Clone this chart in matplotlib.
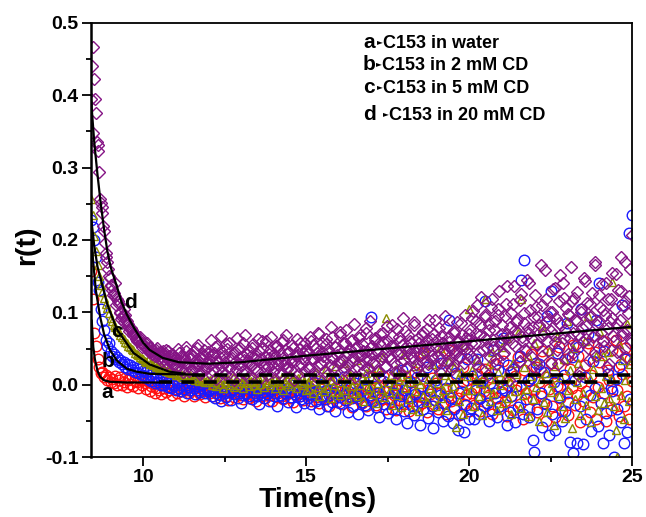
"""Fluorescence anisotropy decay r(t) of C153 in water and in CD solutions."""

import matplotlib

matplotlib.use("Agg")
import matplotlib.pyplot as plt
import numpy as np
from matplotlib.ticker import FormatStrFormatter, MultipleLocator

plt.rcParams["font.family"] = ["Liberation Sans", "DejaVu Sans"]
plt.rcParams["font.weight"] = "bold"

W, H = 646, 517
T0 = 8.40   # first channel on the plot (ns)
DT = 0.05   # channel width (ns)

# anisotropy values, in units of 1e-3, one per channel
r_water = [
    157, 118, 72, 53, 35, 25, 16, 18, 10, 13, 6, 11, 4,
    8, 2, 12, -1, 6, 10, 0, 4, 9, -3, 7, 1, 11, -2, 5, 3, -4, 8, 0, 6,
    2, -6, 5, -9, -2, 1, -11, -4, 3, -7, -13, 0, -5, -10, 4, -8, -3, -14, -1, -6,
    -12, 2, -9, -4, -15, -7, 0, -11, -3, -8, -16, -5, 1, -10, -13, -2, -7, -17, -4, -9,
    -12, -5, -16, -8, -1, -13, -19, -7, -10, -3, -15, -21, -9, -4, -12, -17, -6, -11, -2, -14,
    -20, -8, -13, -5, -18, -10, -1, -15, -22, -7, -12, -4, -16, -9, -19, -11, -3, -14, -23, -8,
    -6, -17, -11, -2, -15, -20, -9, -13, -5, -18, -10, -24, -7, -14, -1, -16, -12, -21, -8, -4,
    -14, -3, -22, -9, 2, -17, -11, -26, -6, -15, 0, -20, -8, -29, -12, 4, -18, -5, -24, -10,
    -1, -27, -14, -7, -21, 6, -16, -31, -4, -12, -19, -9, 8, -25, -13, -2, -30, -17, -6, -22,
    10, -11, -28, -15, -3, -20, 12, -9, -33, -18, -5, -24, 1, -14, -35, -8, -21, 14, -12, -27,
    -2, -17, -36, 5, -23, -10, 18, -30, -15, -4, -26, 44, -19, -38, -7, -13, 9, -29, -21, 2,
    -34, -11, 20, -25, -6, -40, -16, 48, -22, -3, -31, 13, -18, -42, -9, 24, -27, -14, 6, -36,
    -12, 8, -28, -3, 15, -20, -36, 2, -9, 22, -25, -14, 10, -40, -5, 28, -18, -31, 5, -10,
    33, -22, -44, 0, 18, -15, -35, 12, -7, 38, -27, -2, -48, 20, -12, 6, -33, 42, -20, -8,
    25, -38, 3, -16, 47, -25, -50, 11, -6, 30, -30, 16, -45, -2, 52, -18, -36, 8, 35, -11,
    -42, 22, -4, 55, -28, -14, 40, -52, 2, -22, 27, -9, 58, -38, 14, -17, 45, -47, -3, 32,
    -26, 60, -12, -50, 20, 6, -35, 48, -20, 62, -8, -44, 28, 15, -30, 50, -15, -48, 36, 5,
]
r_cd2 = [
    228, 218, 200, 177, 142, 131, 104, 88, 75, 62, 53, 57, 46,
    39, 43, 35, 38, 31, 34, 28, 32, 25, 29, 22, 27, 20, 24, 18, 23, 16, 21, 13, 19,
    12, 17, 8, 14, 5, 10, 2, 9, 3, 7, -1, 4, 0, 6, -3, 2, -5, 1, -2, -7,
    3, -4, -9, 0, -6, -1, -11, -3, -8, 2, -5, -13, -2, -7, -10, 1, -4, -12, -6, -9,
    -8, -15, -4, -19, -11, -2, -14, -23, -7, -12, -17, 0, -10, -21, -6, -13, -3, -18, -9, -25,
    -5, -14, -11, -1, -16, -8, -20, -12, -4, -15, -27, -7, -10, -18, -2, -13, -22, -9, -6, -16,
    -11, -29, -3, -14, -8, -19, -12, -5, -24, -10, -17, -1, -13, -31, -7, -15, -20, -9, -26, -12,
    -18, -5, -27, -12, 3, -22, -9, -33, -15, 1, -20, -8, -29, -14, 6, -24, -11, -36, -3, -17,
    -26, -7, 10, -21, -13, -38, -4, -19, -30, 2, -16, -41, -10, -24, 8, -28, -6, -35, -14, 93,
    -22, -2, -31, -12, -45, -18, 5, -27, -9, -39, 14, -20, -33, -11, -48, -4, -25, -15, 20, -36,
    -7, -53, -19, 3, -29, -42, -13, 11, -24, -56, -2, -34, -17, 24, -46, -9, -30, -60, -21, 7,
    -38, -14, 30, -50, -26, -5, -43, 90, -19, -53, -33, 16, -62, -11, -40, 4, -66, -28, 35, -47,
    -32, 12, -48, -7, 35, -41, -18, 6, -30, 115, -25, -50, 2, -35, 48, -12, -45, 20, -29, -4,
    65, -8, -56, 27, -38, -15, 22, -52, -2, -31, 40, 145, -40, 173, -20, 5, -45, 9, -76, -93,
    30, -34, 28, -11, -58, 18, -27, 95, -69, 129, -40, 4, -62, 44, -17, -3, -50, 13, -36, 85,
    -24, -79, 38, -95, 7, -80, 52, -30, 104, -82, 10, -48, 70, -14, -64, 33, -4, 90, -57, 141,
    -26, -80, 47, -39, 15, -70, -5, -9, -100, 8, -33, 24, -52, 110, -80, 36, -65, 210, -20, 235,
]
r_cd5 = [
    256, 235, 205, 185, 166, 150, 138, 128, 120, 112, 106, 99, 92,
    88, 83, 80, 75, 73, 68, 66, 63, 59, 58, 54, 52, 49, 48, 44, 43, 41, 38, 37, 35,
    33, 31, 34, 29, 30, 27, 28, 25, 26, 23, 24, 21, 22, 19, 21, 17, 19, 16, 18, 14,
    16, 13, 15, 11, 14, 10, 12, 9, 13, 8, 11, 7, 10, 5, 9, 6, 8, 3, 7, 4,
    6, 0, 9, 3, -2, 7, 1, 11, -4, 5, 2, 8, -1, 4, 10, -3, 6, 0, 12, 3,
    -5, 7, 2, 9, -2, 5, 13, 0, 4, -6, 8, 1, 10, -3, 6, 2, 14, -1, 5, 9,
    -4, 3, 7, 0, 11, -7, 4, 8, 1, 15, -2, 6, 3, -5, 9, 2, 12, -1, 5, -8,
    3, -6, 10, -12, 5, 18, -3, -15, 8, 1, -9, 22, -4, 12, -18, 6, -1, 26, -10, 4,
    -14, 9, 30, -7, 2, -20, 14, -2, 7, -11, 34, -16, 0, 11, -23, 5, 16, -8, -3, 24,
    -13, 8, -25, 2, 19, -6, 38, -17, 92, 4, -10, 13, -28, 0, 21, -14, 7, -31, 10, 42,
    -5, 15, -20, 3, -33, 26, -9, 6, -37, 1, 18, -15, 46, -24, 8, -4, 29, -12, 11, -30,
    2, 50, -19, -7, 14, -35, 5, 33, -11, -2, 24, -58, 9, -22, 17, -40, 55, -8, 12, 104,
    -8, 20, -30, 6, 35, -15, 2, -42, 12, 118, -5, 28, -22, 45, -12, 8, -35, 18, 0, 52,
    -26, 10, 64, -18, 4, -40, 30, -9, 15, 72, -32, 118, -14, 24, -6, 40, -44, 12, -20, 58,
    -3, 33, -50, 8, 80, -24, 16, -38, 46, -10, 2, -56, 26, 66, -15, 10, -30, 36, -46, 88,
    -7, 20, -60, 50, -20, 4, 30, -42, 14, -11, 60, -28, 95, 8, -52, 22, -16, 40, -35, 74,
    -4, 40, -25, 12, 45, -18, 8, 142, -30, -62, -100, 56, -14, 34, -48, 6, 84, -22, 28, 38,
]
# the 20 mM CD decay is recorded at half the channel width: even and odd channels
r_cd20 = [
    395, 467, 423, 376, 331, 294, 251, 237, 212, 182, 169, 150, 136,
    131, 127, 140, 118, 112, 101, 94, 104, 96, 88, 84, 79, 76, 72, 70, 65, 62, 66, 58, 55,
    53, 56, 49, 51, 46, 48, 43, 48, 41, 44, 38, 46, 36, 48, 34, 40, 31, 42, 29, 37,
    26, 44, 33, 21, 38, 47, 28, 19, 35, 41, 24, 32, 50, 27, 15, 36, 43, 22, 30, 45,
    29, 14, 41, 52, 33, 22, 38, 47, 18, 31, 56, 25, 36, 12, 44, 30, 21, 49, 37, 27,
    58, 34, 16, 42, 28, 39, 51, 23, 35, 19, 46, 31, 60, 26, 40, 13, 37, 48, 29, 43,
    22, 54, 34, 17, 41, 62, 30, 24, 45, 36, 20, 50, 33, 39, 15, 57, 28, 44, 35, 47,
    42, 25, 61, 35, 18, 50, 39, 70, 28, 45, 33, 56, 14, 47, 38, 66, 24, 52, 41, 30,
    73, 36, 20, 58, 44, 27, 49, 62, 33, 11, 54, 40, 68, 29, 46, 37, 78, 23, 51, 43,
    31, 64, 48, 19, 57, 35, 71, 42, 26, 60, 39, 53, 82, 30, 47, 16, 66, 44, 55, 34,
    74, 25, 50, 61, 38, 86, 45, 22, 58, 41, 69, 32, 54, 77, 28, 48, 63, 36, 90, 52,
    40, 18, 67, 57, 44, 80, 33, 59, 49, 26, 72, 46, 62, 38, 85, 55, 30, 65, 51, 70,
    58, 92, 34, 71, 110, 45, 83, 22, 66, 97, 51, 75, 38, 118, 62, 88, 29, 104, 56, 70,
    42, 95, 137, 64, 80, 19, 112, 53, 86, 71, 33, 126, 60, 99, 47, 78, 141, 65, 24, 93,
    107, 55, 82, 166, 40, 73, 118, 61, 91, 30, 101, 69, 134, 48, 85, 152, 57, 120, 76, 36,
    98, 64, 115, 44, 89, 128, 70, 17, 105, 59, 143, 81, 50, 112, 95, 66, 166, 39, 87, 124,
    72, 103, 54, 141, 79, 28, 118, 92, 61, 153, 84, 47, 130, 68, 109, 169, 75, 122, 58, 207,
]
r_cd20_odd = [
    440, 348, 395, 335, 323, 256, 246, 220, 196, 176, 160, 147,
    138, 124, 122, 110, 115, 99, 91, 97, 86, 90, 80, 74, 78, 68, 71, 63, 60, 64, 57, 52,
    54, 50, 58, 45, 52, 42, 47, 39, 50, 37, 45, 33, 43, 39, 30, 47, 35, 28, 41, 36,
    23, 49, 31, 40, 18, 34, 52, 26, 43, 37, 20, 46, 29, 55, 33, 17, 39, 48, 25, 42,
    35, 62, 20, 44, 8, 53, 31, 67, 26, 40, 15, 49, 58, 23, 37, 6, 45, 64, 29, 51,
    18, 39, 69, 33, 11, 47, 27, 56, 41, 21, 63, 36, 9, 50, 30, 60, 24, 43, 66, 17,
    38, 54, 28, 48, 13, 59, 34, 68, 22, 45, 31, 55, 7, 42, 63, 26, 49, 37, 19, 57,
    48, 21, 66, 37, 55, 12, 44, 72, 30, 58, 40, 19, 63, 49, 27, 80, 35, 52, 9, 46,
    68, 32, 57, 24, 75, 43, 15, 61, 38, 84, 50, 26, 65, 41, 56, 20, 71, 47, 34, 88,
    53, 29, 62, 45, 11, 70, 39, 59, 25, 81, 48, 36, 67, 54, 18, 77, 42, 61, 31, 92,
    51, 23, 69, 44, 58, 37, 83, 28, 64, 50, 14, 73, 46, 60, 33, 89, 55, 40, 70, 26,
    62, 79, 35, 57, 48, 95, 30, 66, 52, 21, 74, 43, 86, 59, 38, 68, 50, 97, 45, 63,
    75, 40, 102, 57, 88, 26, 69, 121, 48, 93, 63, 14, 84, 108, 52, 77, 35, 96, 129, 60,
    82, 44, 111, 70, 7, 99, 58, 136, 76, 90, 31, 117, 66, 85, 49, 145, 72, 103, 38, 80,
    124, 56, 94, 21, 110, 68, 158, 87, 47, 100, 74, 132, 59, 92, 28, 115, 83, 140, 64, 106,
    43, 96, 162, 71, 120, 55, 88, 12, 101, 78, 147, 63, 113, 34, 94, 127, 69, 170, 82, 51,
    108, 139, 61, 97, 25, 118, 86, 154, 67, 104, 45, 131, 90, 177, 73, 115, 38, 99, 160, 62,
]

# fitted curves (solid part, then dashed long-time tail)
fit_a_t = [8.42, 8.47, 8.52, 8.60, 8.68, 8.80, 8.98, 9.50, 10.50]
fit_a_r = [0.090, 0.052, 0.035, 0.019, 0.011, 0.006, 0.004, 0.003, 0.003]
fit_b_t = [8.40, 8.46, 8.55, 8.68, 8.80, 8.98, 9.20, 9.50, 9.80, 10.20, 11.50]
fit_b_r = [0.225, 0.173, 0.130, 0.094, 0.070, 0.048, 0.033, 0.022, 0.018, 0.015, 0.014]
fit_c_t = [8.40, 8.50, 8.60, 8.90, 9.20, 9.70, 10.20, 10.80, 11.30]
fit_c_r = [0.232, 0.192, 0.163, 0.111, 0.076, 0.044, 0.028, 0.018, 0.015]
fit_d_t = [8.40, 8.50, 8.60, 8.70, 8.80, 8.90, 9.00, 9.20, 9.33, 9.50, 9.70,
           10.00, 10.20, 10.60, 11.10, 12.00, 13.00, 15.00, 20.00, 25.00]
fit_d_r = [0.395, 0.335, 0.290, 0.250, 0.215, 0.185, 0.163, 0.135, 0.115, 0.097, 0.080,
           0.058, 0.048, 0.037, 0.031, 0.029, 0.031, 0.040, 0.060, 0.080]
tail_a_t = [10.50, 25.00]
tail_a_r = [0.003, 0.003]
tail_bc_t = [11.50, 25.00]
tail_bc_r = [0.013, 0.013]

letters = ["a", "b", "c", "d"]
legend_labels = ["C153 in water", "C153 in 2 mM CD", "C153 in 5 mM CD", "C153 in 20 mM CD"]
letter_t = [8.89, 8.93, 9.19, 9.60]
letter_r = [-0.011, 0.032, 0.074, 0.113]


def channel_times(values, offset=0.0):
    return T0 + offset + DT * np.arange(len(values))


def fx(px):
    return px / W


def fy(py):
    return 1 - py / H


fig = plt.figure(figsize=(W / 100, H / 100), dpi=100)
ax = fig.add_axes([fx(91), fy(457), (632 - 91) / W, (457 - 23) / H])

series = [
    (r_water, 0.0, "o", 7.6, "#ff1010"),
    (r_cd2, 0.0, "o", 7.6, "#1a1aff"),
    (r_cd5, 0.0, "^", 6.2, "#8c8c00"),
    (r_cd20, 0.0, "D", 6.6, "#851485"),
    (r_cd20_odd, DT / 2, "D", 6.6, "#851485"),
]
for values, offset, marker, size, color in series:
    r = np.asarray(values, dtype=float) / 1000.0
    ax.plot(channel_times(values, offset), r, linestyle="none", marker=marker,
            markersize=size, markerfacecolor="none", markeredgecolor=color,
            markeredgewidth=1.0)

for t, r in [(fit_a_t, fit_a_r), (fit_b_t, fit_b_r), (fit_c_t, fit_c_r), (fit_d_t, fit_d_r)]:
    ax.plot(t, r, color="black", linewidth=1.6, solid_capstyle="butt")
ax.plot(tail_a_t, tail_a_r, color="black", linewidth=2.6, dashes=(3.6, 2.6), dash_capstyle="butt")
ax.plot(tail_bc_t, tail_bc_r, color="black", linewidth=2.6, dashes=(3.6, 2.6), dash_capstyle="butt")

for letter, t, r in zip(letters, letter_t, letter_r):
    ax.text(t, r, letter, fontsize=15, fontweight="bold", ha="center", va="center")

ax.set_xlim(8.4, 25)
ax.set_ylim(-0.1, 0.5)
ax.xaxis.set_major_locator(MultipleLocator(5))
ax.xaxis.set_minor_locator(MultipleLocator(2.5))
ax.yaxis.set_major_locator(MultipleLocator(0.1))
ax.yaxis.set_minor_locator(MultipleLocator(0.05))
ax.yaxis.set_major_formatter(FormatStrFormatter("%.1f"))
ax.tick_params(which="both", direction="out", top=False, right=False, width=1.3)
ax.tick_params(which="major", length=6.5, labelsize=14, pad=2.5)
ax.tick_params(which="minor", length=3.5)
for label in ax.get_xticklabels() + ax.get_yticklabels():
    label.set_fontweight("bold")
for side in ["left", "right", "top", "bottom"]:
    ax.spines[side].set_linewidth(1.3)
ax.spines["left"].set_linewidth(1.8)

fig.text(fx(318), fy(500), "Time(ns)", fontsize=20.5, fontweight="bold", ha="center", va="center")
fig.text(fx(27), fy(245), "r(t)", fontsize=20.5, fontweight="bold", ha="center", va="center",
         rotation=90)

# legend block, top right inside the axes
rows_y = [48, 70, 93, 120]
text_x = [383, 382, 383, 389]
for letter, label, y, x in zip(letters, legend_labels, rows_y, text_x):
    fig.text(fx(363), fy(y), letter, fontsize=15, fontweight="bold", ha="left", va="baseline")
    fig.text(fx(x - 0.5), fy(y - 4), "\u25ba", fontsize=5.5, ha="right", va="baseline",
             family=["DejaVu Sans"])
    fig.text(fx(x), fy(y), label, fontsize=13, fontweight="bold", ha="left", va="baseline")

fig.savefig("out.png", dpi=100)
